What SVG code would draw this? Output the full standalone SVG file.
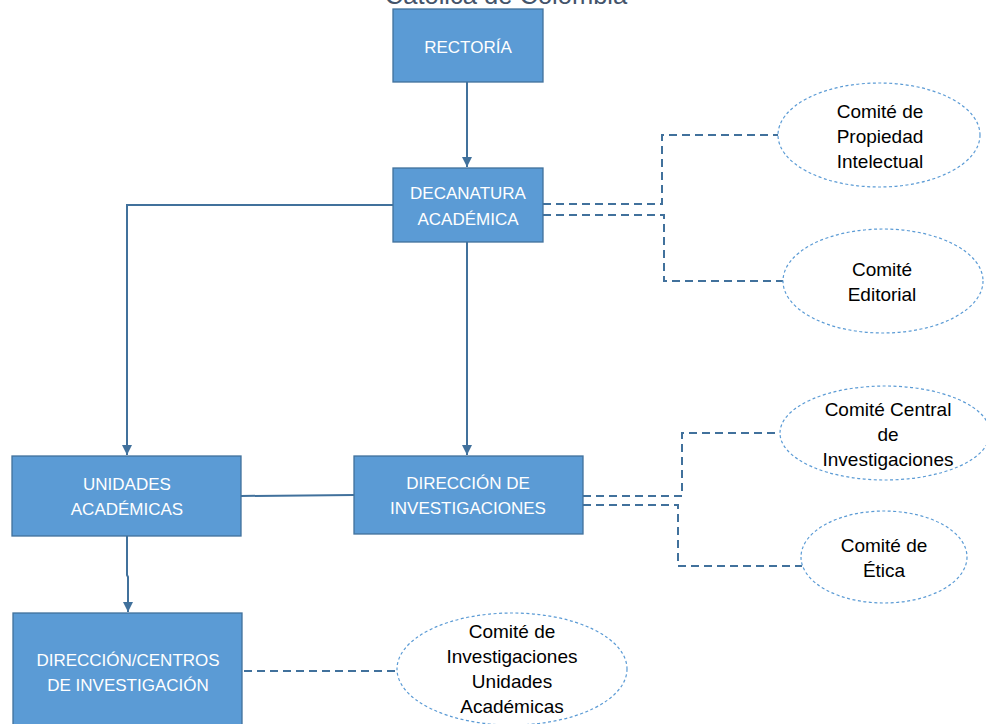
<svg xmlns="http://www.w3.org/2000/svg" width="986" height="724" viewBox="0 0 986 724">
<defs>
<style>
.box{fill:#5B9BD5;stroke:#41719C;stroke-width:1.3}
.bt{font-family:"Liberation Sans",Arial,sans-serif;font-size:17px;fill:#FFFFFF;text-anchor:middle}
.el{fill:#FFFFFF;stroke:#5B9BD5;stroke-width:1.2;stroke-dasharray:3 2.5}
.et{font-family:"Liberation Sans",Arial,sans-serif;font-size:19px;fill:#000000;text-anchor:middle}
.sl{fill:none;stroke:#41719C;stroke-width:2}
.dl{fill:none;stroke:#41719C;stroke-width:2;stroke-dasharray:8 5}
.title{font-family:"Liberation Sans",Arial,sans-serif;font-size:25.5px;fill:#44546A;text-anchor:middle}
</style>
<marker id="arr" viewBox="0 0 10 10" refX="10" refY="5" markerWidth="5" markerHeight="5" orient="auto" markerUnits="strokeWidth">
<path d="M0,0 L10,5 L0,10 z" fill="#41719C"/>
</marker>
</defs>
<rect width="986" height="724" fill="#FFFFFF"/>
<text class="title" x="506" y="4">Católica de Colombia</text>
<g id="connectors">
<path class="sl" d="M467,82 V167" marker-end="url(#arr)"/>
<path class="sl" d="M393,205 H127 V455" marker-end="url(#arr)"/>
<path class="sl" d="M467,242 V455" marker-end="url(#arr)"/>
<path class="sl" d="M241,496 L354,495"/>
<path class="sl" d="M127,536 V575 L128,577 V612" marker-end="url(#arr)"/>
<path class="dl" d="M543,204 H662 V135 H780"/>
<path class="dl" d="M543,215 H664 V281 H785"/>
<path class="dl" d="M583,496 H682 V433 H780"/>
<path class="dl" d="M583,505 H678 V566 H802"/>
<path class="dl" d="M244,671 H399"/>
</g>
<g id="rectoria">
<rect class="box" x="393" y="9" width="150" height="73"/>
<text class="bt" x="468" y="53">RECTORÍA</text>
</g>
<g id="decanatura">
<rect class="box" x="393" y="168" width="150" height="74"/>
<text class="bt" x="468" y="199">DECANATURA</text>
<text class="bt" x="468" y="225">ACADÉMICA</text>
</g>
<g id="unidades">
<rect class="box" x="12" y="456" width="229" height="80"/>
<text class="bt" x="127" y="490">UNIDADES</text>
<text class="bt" x="127" y="515">ACADÉMICAS</text>
</g>
<g id="direccion-investigaciones">
<rect class="box" x="354" y="456" width="229" height="78"/>
<text class="bt" x="468" y="489">DIRECCIÓN DE</text>
<text class="bt" x="468" y="514">INVESTIGACIONES</text>
</g>
<g id="direccion-centros">
<rect class="box" x="13" y="613" width="229" height="120"/>
<text class="bt" x="128" y="666">DIRECCIÓN/CENTROS</text>
<text class="bt" x="128" y="691">DE INVESTIGACIÓN</text>
</g>
<g id="comite-propiedad">
<ellipse class="el" cx="879" cy="135" rx="101" ry="52"/>
<text class="et" x="880" y="118">Comité de</text>
<text class="et" x="880" y="143">Propiedad</text>
<text class="et" x="880" y="168">Intelectual</text>
</g>
<g id="comite-editorial">
<ellipse class="el" cx="883" cy="281" rx="100" ry="52"/>
<text class="et" x="882" y="276">Comité</text>
<text class="et" x="882" y="301">Editorial</text>
</g>
<g id="comite-central">
<ellipse class="el" cx="885" cy="433" rx="105" ry="47"/>
<text class="et" x="888" y="416">Comité Central</text>
<text class="et" x="888" y="441">de</text>
<text class="et" x="888" y="466">Investigaciones</text>
</g>
<g id="comite-etica">
<ellipse class="el" cx="884" cy="557" rx="83" ry="46"/>
<text class="et" x="884" y="552">Comité de</text>
<text class="et" x="884" y="577">Ética</text>
</g>
<g id="comite-unidades">
<ellipse class="el" cx="512" cy="669" rx="115" ry="56"/>
<text class="et" x="512" y="638">Comité de</text>
<text class="et" x="512" y="663">Investigaciones</text>
<text class="et" x="512" y="688">Unidades</text>
<text class="et" x="512" y="713">Académicas</text>
</g>
</svg>
